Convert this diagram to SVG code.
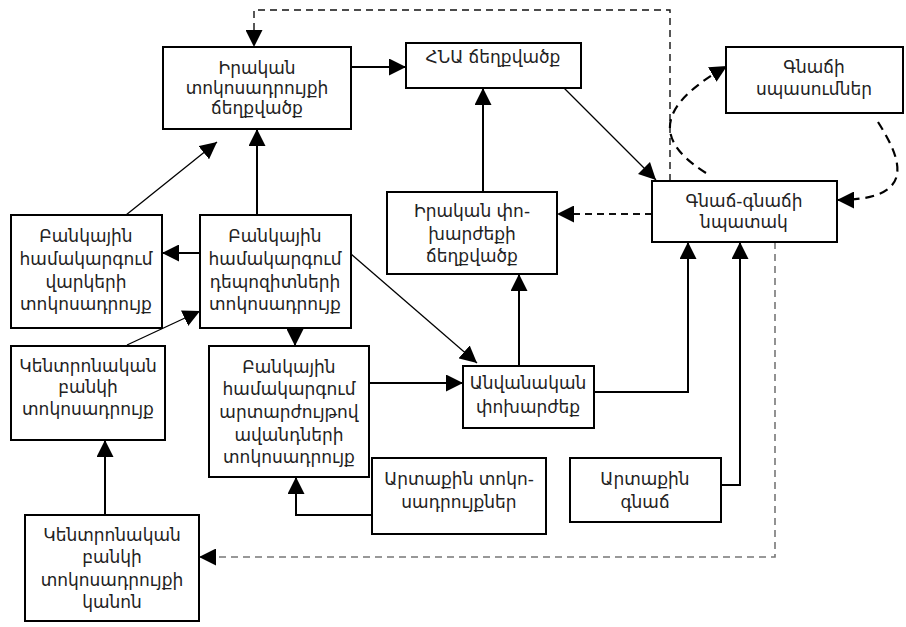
<svg xmlns="http://www.w3.org/2000/svg" width="906" height="627" viewBox="0 0 906 627">
<style>
.box{fill:#fff;stroke:#000;stroke-width:2}
.t{font-family:"DejaVu Sans",sans-serif;font-size:17px;fill:#222;text-anchor:middle}
.c{fill:none;stroke:#000;stroke-width:2}
.d{fill:none;stroke:#000;stroke-width:1.3}
.dash{fill:none;stroke:#111;stroke-width:1.4;stroke-dasharray:7,5}
.dashg{fill:none;stroke:#777;stroke-width:1.6;stroke-dasharray:7,5}
.dashb{fill:none;stroke:#000;stroke-width:2.2;stroke-dasharray:9,6}
</style>
<defs>
<marker id="a" markerUnits="userSpaceOnUse" markerWidth="17" markerHeight="17" refX="17" refY="8.5" orient="auto"><path d="M0,0 L17,8.5 L0,17 z" fill="#000"/></marker>
</defs>
<g id="connectors">
<path class="c" d="M351,67 H406" marker-end="url(#a)"/>
<path class="d" d="M563,87 L656,180" marker-end="url(#a)"/>
<path class="c" d="M483,192 V88" marker-end="url(#a)"/>
<path class="dash" style="stroke-width:2" d="M652,214 H557" marker-end="url(#a)"/>
<path class="c" d="M519,366 V274" marker-end="url(#a)"/>
<path class="c" d="M594,392 H688 V242" marker-end="url(#a)"/>
<path class="c" d="M721,485 H740 V242" marker-end="url(#a)"/>
<path class="c" d="M200,253 H162" marker-end="url(#a)"/>
<path class="c" d="M257,215 V129" marker-end="url(#a)"/>
<path class="d" d="M126,215 L217,142" marker-end="url(#a)"/>
<path class="d" d="M127,345 L200,311" marker-end="url(#a)"/>
<path class="c" d="M295,328 V346" marker-end="url(#a)"/>
<path class="d" d="M351,254 L477,363" marker-end="url(#a)"/>
<path class="c" d="M369,383 H463" marker-end="url(#a)"/>
<path class="c" d="M372,515 H296 V477" marker-end="url(#a)"/>
<path class="c" d="M105,515 V440" marker-end="url(#a)"/>
<path class="dash" d="M670,181 V10 H254 V47" marker-end="url(#a)"/>
<path class="dashg" d="M775,242 V557 H199" marker-end="url(#a)"/>
<path class="dashb" d="M706,173 C640,132 675,96 727,66" marker-end="url(#a)"/>
<path class="dashb" d="M878,122 C902,160 918,200 837,200" marker-end="url(#a)"/>
</g>
<g id="n1"><rect class="box" x="163" y="47" width="188" height="82"/>
<text class="t" x="257" y="74">Իրական</text><text class="t" x="257" y="94">տոկոսադրույքի</text><text class="t" x="257" y="114">ճեղքվածք</text></g>
<g id="n2"><rect class="box" x="406" y="43" width="175" height="45"/>
<text class="t" x="493" y="63">ՀՆԱ ճեղքվածք</text></g>
<g id="n3"><rect class="box" x="726" y="47" width="177" height="66"/>
<text class="t" x="814" y="73">Գնաճի</text><text class="t" x="814" y="95">սպասումներ</text></g>
<g id="n4"><rect class="box" x="652" y="181" width="185" height="61"/>
<text class="t" x="744" y="207">Գնաճ-գնաճի</text><text class="t" x="744" y="228">նպատակ</text></g>
<g id="n5"><rect class="box" x="387" y="192" width="170" height="82"/>
<text class="t" x="472" y="217">Իրական փո-</text><text class="t" x="472" y="240">խարժեքի</text><text class="t" x="472" y="262">ճեղքվածք</text></g>
<g id="n6"><rect class="box" x="11" y="215" width="151" height="113"/>
<text class="t" x="86" y="242">Բանկային</text><text class="t" x="86" y="265">համակարգում</text><text class="t" x="86" y="288">վարկերի</text><text class="t" x="86" y="310">տոկոսադրույք</text></g>
<g id="n7"><rect class="box" x="200" y="215" width="151" height="113"/>
<text class="t" x="275" y="242">Բանկային</text><text class="t" x="275" y="265">համակարգում</text><text class="t" x="275" y="288">դեպոզիտների</text><text class="t" x="275" y="310">տոկոսադրույք</text></g>
<g id="n8"><rect class="box" x="11" y="346" width="154" height="94"/>
<text class="t" x="88" y="372">Կենտրոնական</text><text class="t" x="88" y="393">բանկի</text><text class="t" x="88" y="415">տոկոսադրույք</text></g>
<g id="n9"><rect class="box" x="209" y="346" width="160" height="131"/>
<text class="t" x="289" y="373">Բանկային</text><text class="t" x="289" y="395">համակարգում</text><text class="t" x="289" y="418">արտարժույթով</text><text class="t" x="289" y="441">ավանդների</text><text class="t" x="289" y="463">տոկոսադրույք</text></g>
<g id="n10"><rect class="box" x="463" y="366" width="131" height="62"/>
<text class="t" x="528" y="389">Անվանական</text><text class="t" x="528" y="413">փոխարժեք</text></g>
<g id="n11"><rect class="box" x="372" y="458" width="174" height="76"/>
<text class="t" x="459" y="485">Արտաքին տոկո-</text><text class="t" x="459" y="508">սադրույքներ</text></g>
<g id="n12"><rect class="box" x="570" y="458" width="151" height="64"/>
<text class="t" x="645" y="485">Արտաքին</text><text class="t" x="645" y="508">գնաճ</text></g>
<g id="n13"><rect class="box" x="25" y="515" width="174" height="106"/>
<text class="t" x="112" y="541">Կենտրոնական</text><text class="t" x="112" y="563">բանկի</text><text class="t" x="112" y="586">տոկոսադրույքի</text><text class="t" x="112" y="608">կանոն</text></g>
</svg>
